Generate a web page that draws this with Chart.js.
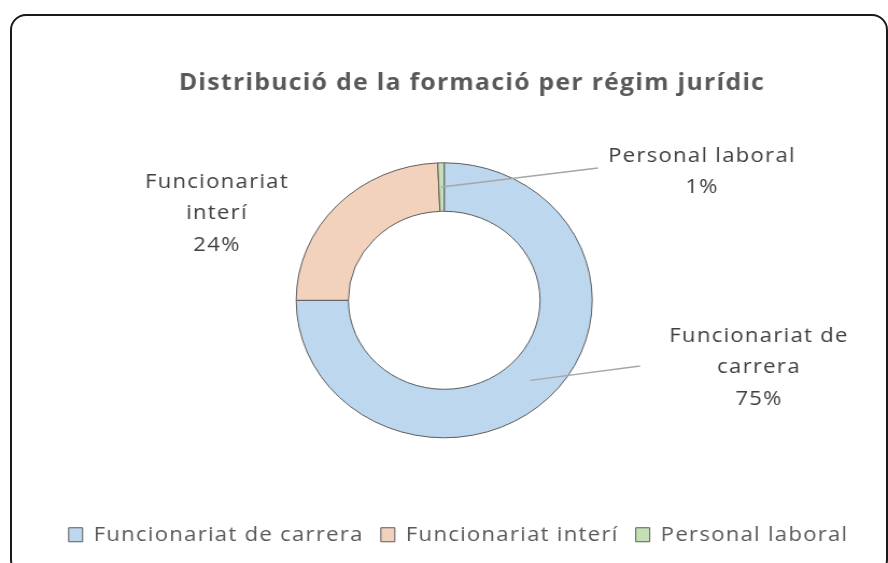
<!DOCTYPE html>
<html>
<head>
<meta charset="utf-8">
<script src="https://cdn.jsdelivr.net/npm/chart.js@4/dist/chart.umd.min.js"></script>
<style>
  html, body { margin: 0; padding: 0; background: #fff; overflow: hidden; }
  #wrap { position: relative; width: 888px; height: 563px; }
  #grafic { position: absolute; left: 0; top: 0; }
  #marc {
    position: absolute; left: 10px; top: 14px; width: 878px; height: 562px;
    box-sizing: border-box; border: 2px solid #1a1a1a; border-radius: 16px;
    pointer-events: none;
  }
</style>
</head>
<body>
<div id="wrap">
  <canvas id="grafic" width="825" height="563" style="width:888px;height:563px"></canvas>
  <div id="marc"></div>
</div>
<script>
// Dades del gràfic
const categories = ['Funcionariat de carrera', 'Funcionariat interí', 'Personal laboral'];
const valors = [75.0, 24.3, 0.7];
const colors = ['#BDD7EE', '#F2D2BC', '#C5E0B4'];

// L'original està estirat en horitzontal: el canvas es dibuixa més estret i el CSS l'eixampla
const SX = 825 / 888;
const FONT = "'Open Sans', 'DejaVu Sans', sans-serif";
const ESPAIAT = '1.2px';

// Posició de les etiquetes (en píxels de pantalla)
const etiquetes = [
    { x: 759, y: 336, ample: 200, linia: [640, 366] },
    { x: 217, y: 182, ample: 160, linia: null },
    { x: 702, y: 156, ample: 210, linia: [598, 168] },
];

// Centre i radis de l'anell (pantalla)
const centre = { x: 444.2, y: 300.3 };
const radiExt = 138;
const radiInt = 89;

function partirText(ctx, text, ample) {
    const paraules = text.split(' ');
    const linies = [];
    let actual = '';
    paraules.forEach(p => {
        const prova = actual ? actual + ' ' + p : p;
        if (actual && ctx.measureText(prova).width > ample * SX) {
            linies.push(actual);
            actual = p;
        } else {
            actual = prova;
        }
    });
    if (actual) linies.push(actual);
    return linies;
}

// Col·loca l'anell i el títol com a l'original, i eixampla una mica la lletra
const ajustPlot = {
    id: 'ajustPlot',
    beforeUpdate(chart) {
        chart.ctx.letterSpacing = ESPAIAT;
    },
    beforeDraw(chart) {
        chart.ctx.letterSpacing = ESPAIAT;
    },
    afterLayout(chart) {
        const cx = centre.x * SX;
        chart.chartArea = {
            left: cx - radiExt, right: cx + radiExt,
            top: centre.y - radiExt, bottom: centre.y + radiExt,
            width: radiExt * 2, height: radiExt * 2,
        };
        const t = chart.titleBlock;
        if (t) {
            const d = 472 * SX - (t.left + t.right) / 2;
            t.left += d;
            t.right += d;
        }
    },
};

// Etiquetes de dades amb línies guia
const etiquetesDades = {
    id: 'etiquetesDades',
    afterDatasetsDraw(chart) {
        const ctx = chart.ctx;
        const meta = chart.getDatasetMeta(0);
        const total = valors.reduce((a, b) => a + b, 0);
        ctx.save();
        ctx.letterSpacing = ESPAIAT;
        ctx.font = '20.5px ' + FONT;
        meta.data.forEach((arc, i) => {
            const e = etiquetes[i];
            if (e.linia) {
                const p = arc.getCenterPoint();
                ctx.beginPath();
                ctx.moveTo(p.x, p.y);
                ctx.lineTo(e.linia[0] * SX, e.linia[1]);
                ctx.strokeStyle = '#A6A6A6';
                ctx.lineWidth = 1.5;
                ctx.stroke();
            }
            const linies = partirText(ctx, categories[i], e.ample);
            linies.push(Math.round(valors[i] / total * 100) + '%');
            ctx.fillStyle = '#404040';
            ctx.textAlign = 'center';
            ctx.textBaseline = 'middle';
            linies.forEach((l, k) => ctx.fillText(l, e.x * SX, e.y + k * 31.5));
        });
        ctx.restore();
    },
};

new Chart(document.getElementById('grafic'), {
    type: 'doughnut',
    data: {
        labels: categories,
        datasets: [{
            data: valors,
            backgroundColor: colors,
            borderColor: '#5B5B5B',
            borderWidth: 1,
        }],
    },
    options: {
        responsive: false,
        devicePixelRatio: 1,
        animation: false,
        cutout: radiInt,
        layout: { padding: { left: 27, right: 0, top: 0, bottom: 8 } },
        plugins: {
            tooltip: { enabled: false },
            title: {
                display: true,
                text: 'Distribució de la formació per régim jurídic',
                color: '#595959',
                font: { family: FONT, size: 23, weight: 'bold' },
                padding: { top: 70, bottom: 0 },
            },
            legend: {
                position: 'bottom',
                labels: {
                    color: '#595959',
                    font: { family: FONT, size: 20.5 },
                    boxWidth: 13,
                    boxHeight: 14,
                    padding: 16,
                },
            },
        },
    },
    plugins: [ajustPlot, etiquetesDades],
});
</script>
</body>
</html>
